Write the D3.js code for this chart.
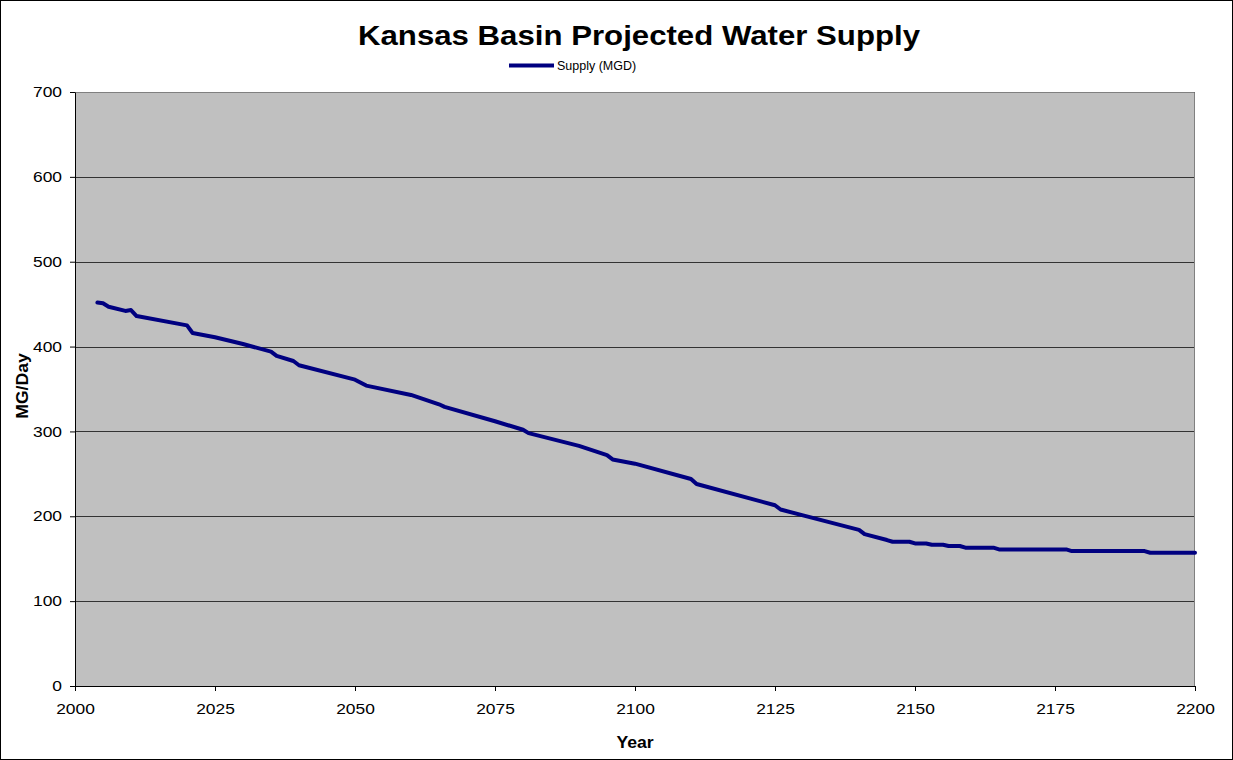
<!DOCTYPE html>
<html>
<head>
<meta charset="utf-8">
<script src="https://cdn.jsdelivr.net/npm/d3@7"></script>
<style>
	body { margin: 0; background: #fff; }
	svg { display: block; font-family: Arial, "Liberation Sans", sans-serif; }
</style>
</head>
<body>
<svg id="chart" width="1233" height="760"></svg>
<script>
// breakpoints
const years = [2004, 2005, 2006, 2009, 2010, 2011, 2020, 2021, 2025, 2030, 2035, 2036, 2039, 2040,
	2050, 2052, 2060, 2065, 2066, 2075, 2080, 2081, 2090, 2095, 2096, 2100, 2110, 2111,
	2125, 2126, 2130, 2140, 2141, 2145, 2146, 2149, 2150, 2152, 2153, 2155, 2156, 2158, 2159,
	2164, 2165, 2177, 2178, 2191, 2192, 2200];
const supply = [452, 451, 447, 442, 443, 436, 425, 416, 411, 403, 394, 389, 383, 378,
	361, 354, 343, 332, 329, 312, 302, 298, 283, 272, 267, 262, 244, 238,
	213, 208, 201, 184, 179, 172, 170, 170, 168, 168, 166.5, 166.5, 165, 165, 163,
	163, 161, 161, 159, 159, 157, 157];
const yTicks = [0, 100, 200, 300, 400, 500, 600, 700];
const xTicks = [2000, 2025, 2050, 2075, 2100, 2125, 2150, 2175, 2200];

let svg = d3.select('#chart');
let width = +svg.attr('width');
let height = +svg.attr('height');
let margin = { top: 92, right: 38, bottom: 74, left: 75 };
let w = width - margin.left - margin.right;
let h = height - margin.top - margin.bottom;

// the original text is rendered a bit wider than Arial
let stretch = (sel, k) => {
	sel.each(function () {
		let len = this.getComputedTextLength();
		d3.select(this).attr('textLength', len * k).attr('lengthAdjust', 'spacingAndGlyphs');
	});
};

// outer frame
svg.append('rect')
	.attr('x', 0.5).attr('y', 0.5)
	.attr('width', width - 1).attr('height', height - 1)
	.attr('fill', '#fff').attr('stroke', '#000');

let x = d3.scaleLinear().domain([2000, 2200]).range([0, w]);
let y = d3.scaleLinear().domain([0, 700]).range([h, 0]);

let g = svg.append('g')
	.attr('transform', 'translate(' + margin.left + ',' + margin.top + ')');

g.append('rect')
	.attr('width', w).attr('height', h)
	.attr('fill', '#c0c0c0');

g.append('g')
	.selectAll('line')
	.data(yTicks.slice(1))
	.enter().append('line')
	.attr('x1', 0).attr('x2', w)
	.attr('y1', (d) => Math.round(y(d)) + 0.5)
	.attr('y2', (d) => Math.round(y(d)) + 0.5)
	.attr('stroke', '#333');

// right / top plot border
g.append('path')
	.attr('d', 'M0,0.5H' + (w - 0.5) + 'V' + h)
	.attr('fill', 'none').attr('stroke', '#808080');

let yAxis = g.append('g')
	.call(d3.axisLeft(y).tickValues(yTicks).tickSize(5).tickSizeOuter(0).tickPadding(8));
let xAxis = g.append('g')
	.attr('transform', 'translate(0,' + h + ')')
	.call(d3.axisBottom(x).tickValues(xTicks).tickFormat(d3.format('d')).tickSize(5).tickSizeOuter(0).tickPadding(13));

[xAxis, yAxis].forEach((a) => {
	a.select('.domain').attr('stroke', '#000');
	a.selectAll('.tick line').attr('stroke', '#000');
	a.selectAll('text').attr('font-size', 14.5).attr('fill', '#000')
		.attr('font-family', 'Arial, "Liberation Sans", sans-serif');
	stretch(a.selectAll('text'), 1.2);
});

let line = d3.line()
	.x((d, i) => x(years[i]))
	.y((d) => y(d));

g.append('path')
	.datum(supply)
	.attr('d', line)
	.attr('fill', 'none')
	.attr('stroke', '#000080')
	.attr('stroke-width', 4)
	.attr('stroke-linejoin', 'round')
	.attr('stroke-linecap', 'round');

let title = svg.append('text')
	.attr('x', 639).attr('y', 45)
	.attr('text-anchor', 'middle')
	.attr('font-size', 28).attr('font-weight', 'bold')
	.text('Kansas Basin Projected Water Supply');
title.attr('textLength', 562).attr('lengthAdjust', 'spacingAndGlyphs');

// legend
svg.append('line')
	.attr('x1', 509).attr('x2', 554)
	.attr('y1', 65.5).attr('y2', 65.5)
	.attr('stroke', '#000080').attr('stroke-width', 4);
svg.append('text')
	.attr('x', 557).attr('y', 70)
	.attr('font-size', 12.5)
	.text('Supply (MGD)');

let xTitle = svg.append('text')
	.attr('x', 635).attr('y', 748)
	.attr('text-anchor', 'middle')
	.attr('font-size', 16).attr('font-weight', 'bold')
	.text('Year');
stretch(xTitle, 1.1);

let yTitle = svg.append('text')
	.attr('transform', 'translate(28,386) rotate(-90)')
	.attr('text-anchor', 'middle')
	.attr('font-size', 16).attr('font-weight', 'bold')
	.text('MG/Day');
stretch(yTitle, 1.1);
</script>
</body>
</html>
